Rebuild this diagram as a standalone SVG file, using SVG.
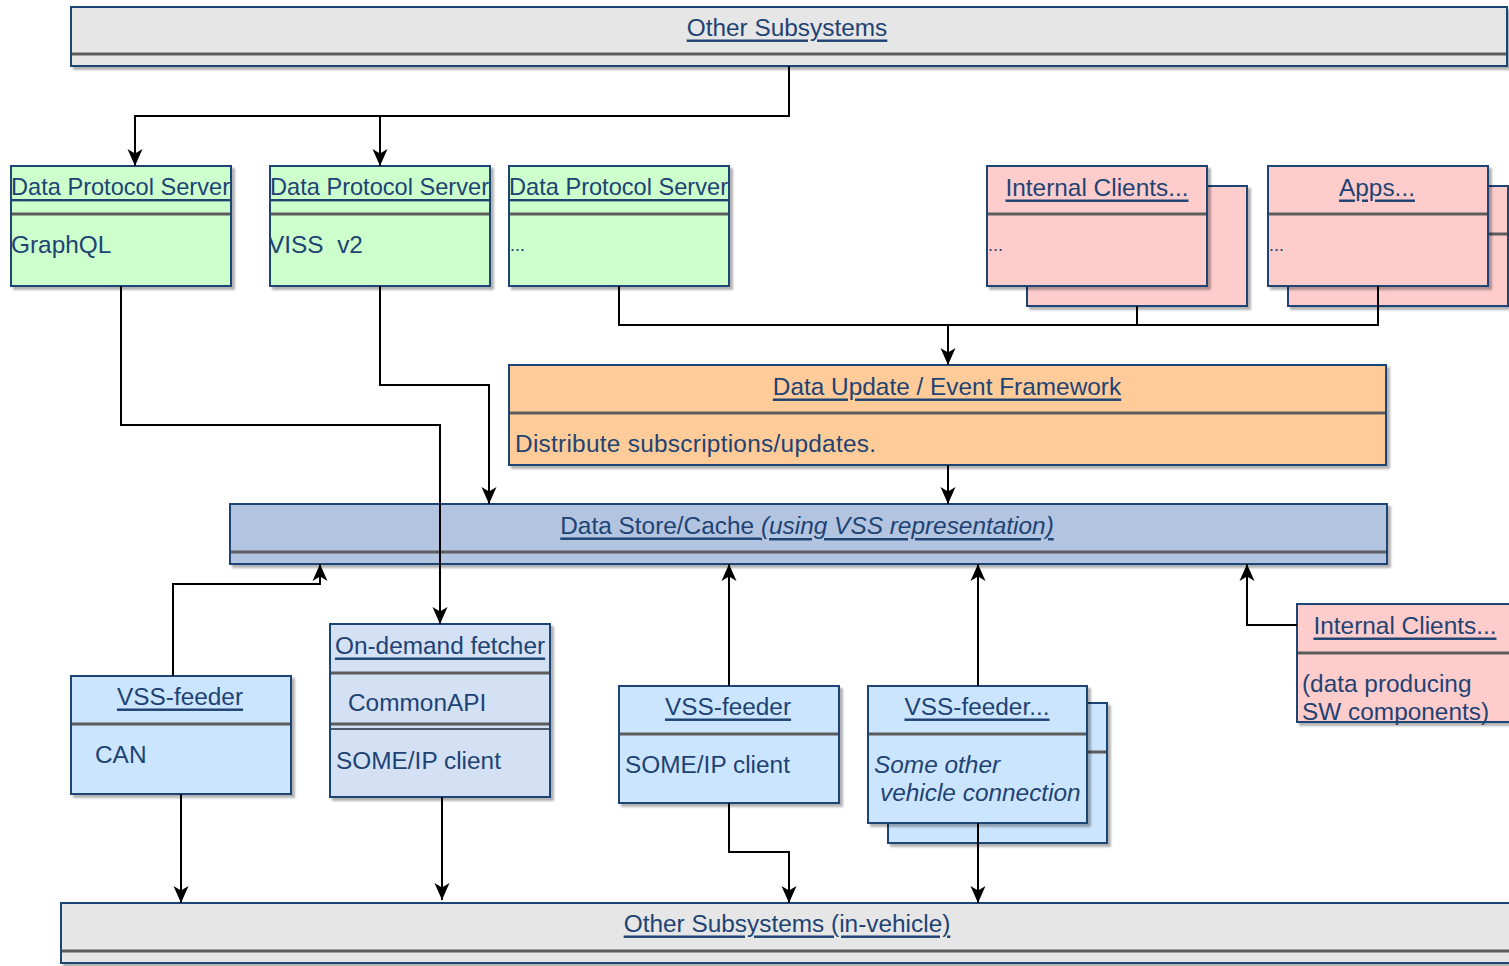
<svg xmlns="http://www.w3.org/2000/svg" width="1509" height="966" viewBox="0 0 1509 966">
<style>
.b{stroke:#1D4474;stroke-width:2}
.gray{fill:#E6E6E6}.green{fill:#CCFFCC}.pink{fill:#FFCCCC}.orange{fill:#FFCC99}.store{fill:#B2C4E0}.feeder{fill:#CCE5FF}.fetch{fill:#D4E1F5}
.sep{stroke:#5c5c5c;stroke-width:2.8}
text{font-family:"Liberation Sans",Arial,sans-serif;font-size:24.4px;fill:#1E4373;dominant-baseline:central}
.h{text-decoration:underline}
.m{text-anchor:middle}
.i{font-style:italic}
.c{fill:none;stroke:#000;stroke-width:2;marker-end:url(#ar)}
.cn{fill:none;stroke:#000;stroke-width:2}
.shd{filter:url(#sh)}
.dots{font-size:18px}
.dps{font-size:23.6px}
</style>
<defs>
<filter id="sh" x="-5%" y="-5%" width="115%" height="130%"><feDropShadow dx="3" dy="3" stdDeviation="1" flood-color="#000" flood-opacity="0.3"/></filter>
<marker id="ar" markerUnits="userSpaceOnUse" markerWidth="17" markerHeight="17" viewBox="0 0 17 17" refX="17" refY="8.5" orient="auto"><path d="M0,1 L17,8.5 L0,16 L4.5,8.5 z" fill="#000"/></marker>
<clipPath id="c1"><rect x="11" y="166" width="220" height="120"/></clipPath>
<clipPath id="c2"><rect x="270" y="166" width="220" height="120"/></clipPath>
<clipPath id="c3"><rect x="509" y="166" width="220" height="120"/></clipPath>
</defs>

<g id="other-top">
<g class="shd"><rect class="b gray" x="71" y="7" width="1436" height="59"/></g>
<line class="sep" x1="72" y1="54" x2="1506" y2="54"/>
<text class="h m" x="787" y="27">Other Subsystems</text>
</g>

<g id="dps1">
<g class="shd"><rect class="b green" x="11" y="166" width="220" height="120"/></g>
<line class="sep" x1="12" y1="214" x2="230" y2="214"/>
<g clip-path="url(#c1)"><text class="h dps" x="11" y="187">Data Protocol Server</text>
<text x="11" y="244">GraphQL</text></g>
</g>
<g id="dps2">
<g class="shd"><rect class="b green" x="270" y="166" width="220" height="120"/></g>
<line class="sep" x1="271" y1="214" x2="489" y2="214"/>
<g clip-path="url(#c2)"><text class="h dps" x="270" y="187">Data Protocol Server</text>
<text x="268" y="244" style="white-space:pre">VISS  v2</text></g>
</g>
<g id="dps3">
<g class="shd"><rect class="b green" x="509" y="166" width="220" height="120"/></g>
<line class="sep" x1="510" y1="214" x2="728" y2="214"/>
<g clip-path="url(#c3)"><text class="h dps" x="509" y="187">Data Protocol Server</text>
<text class="dots" x="510" y="245">...</text></g>
</g>

<g id="internal-clients-top">
<g class="shd"><rect class="b pink" x="1027" y="186" width="220" height="120"/></g>
<g class="shd"><rect class="b pink" x="987" y="166" width="220" height="120"/></g>
<line class="sep" x1="988" y1="214" x2="1206" y2="214"/>
<text class="h m" x="1097" y="187">Internal Clients...</text>
<text class="dots" x="988" y="245">...</text>
</g>
<g id="apps">
<g class="shd"><rect class="b pink" x="1288" y="186" width="220" height="120"/></g>
<line class="sep" x1="1289" y1="234" x2="1507" y2="234"/>
<g class="shd"><rect class="b pink" x="1268" y="166" width="220" height="120"/></g>
<line class="sep" x1="1269" y1="214" x2="1487" y2="214"/>
<text class="h m" x="1377" y="187">Apps...</text>
<text class="dots" x="1269" y="245">...</text>
</g>

<g id="data-update">
<g class="shd"><rect class="b orange" x="509" y="365" width="877" height="100"/></g>
<line class="sep" x1="510" y1="413" x2="1385" y2="413"/>
<text class="h m" x="947" y="386">Data Update / Event Framework</text>
<text x="515" y="443" textLength="361">Distribute subscriptions/updates.</text>
</g>

<g id="data-store">
<g class="shd"><rect class="b store" x="230" y="504" width="1157" height="60"/></g>
<line class="sep" x1="231" y1="552" x2="1386" y2="552"/>
<text class="h m" x="807" y="525">Data Store/Cache <tspan class="i">(using VSS representation)</tspan></text>
</g>

<g id="vss-feeder-can">
<g class="shd"><rect class="b feeder" x="71" y="676" width="220" height="118"/></g>
<line class="sep" x1="72" y1="724" x2="290" y2="724"/>
<text class="h m" x="180" y="696">VSS-feeder</text>
<text x="95" y="754">CAN</text>
</g>

<g id="on-demand-fetcher">
<g class="shd"><rect class="b fetch" x="330" y="624" width="220" height="173"/></g>
<line class="sep" x1="331" y1="673" x2="549" y2="673"/>
<line class="sep" x1="331" y1="724" x2="549" y2="724"/>
<line x1="331" y1="729" x2="549" y2="729" stroke="#4a5a6a" stroke-width="2"/>
<text class="h m" x="440" y="645">On-demand fetcher</text>
<text x="348" y="702">CommonAPI</text>
<text x="336" y="760">SOME/IP client</text>
</g>

<g id="vss-feeder-someip">
<g class="shd"><rect class="b feeder" x="619" y="686" width="220" height="117"/></g>
<line class="sep" x1="620" y1="734" x2="838" y2="734"/>
<text class="h m" x="728" y="706">VSS-feeder</text>
<text x="625" y="764">SOME/IP client</text>
</g>

<g id="vss-feeder-other">
<g class="shd"><rect class="b feeder" x="888" y="703" width="219" height="140"/></g>
<line class="sep" x1="889" y1="752" x2="1106" y2="752"/>
<g class="shd"><rect class="b feeder" x="868" y="686" width="219" height="137"/></g>
<line class="sep" x1="869" y1="734" x2="1086" y2="734"/>
<text class="h m" x="977" y="706">VSS-feeder...</text>
<text class="i" x="874" y="764">Some other</text>
<text class="i" x="880" y="792">vehicle connection</text>
</g>

<g id="internal-clients-right">
<g class="shd"><rect class="b pink" x="1297" y="604" width="220" height="118"/></g>
<line class="sep" x1="1298" y1="653" x2="1516" y2="653"/>
<text class="h m" x="1405" y="625">Internal Clients...</text>
<text x="1302" y="683">(data producing</text>
<text x="1302" y="711">SW components)</text>
</g>

<g id="other-bottom">
<g class="shd"><rect class="b gray" x="61" y="903" width="1452" height="60"/></g>
<line class="sep" x1="62" y1="951" x2="1512" y2="951"/>
<text class="h m" x="787" y="923">Other Subsystems (in-vehicle)</text>
</g>

<g id="connectors">
<path class="c" d="M789,66 V116 H135 V166"/>
<path class="c" d="M380,116 V166"/>
<path class="cn" d="M619,286 V325 H1378 V286"/>
<path class="cn" d="M1137,306 V325"/>
<path class="c" d="M948,325 V365"/>
<path class="c" d="M948,465 V504"/>
<path class="c" d="M121,286 V425 H440 V624"/>
<path class="c" d="M380,286 V385 H489 V504"/>
<path class="c" d="M173,676 V584 H320 V564"/>
<path class="c" d="M729,686 V564"/>
<path class="c" d="M978,686 V564"/>
<path class="c" d="M1297,625 H1247 V564"/>
<path class="c" d="M181,794 V903"/>
<path class="c" d="M442,797 V900"/>
<path class="c" d="M729,803 V852 H789 V903"/>
<path class="c" d="M978,823 V903"/>
</g>
</svg>
